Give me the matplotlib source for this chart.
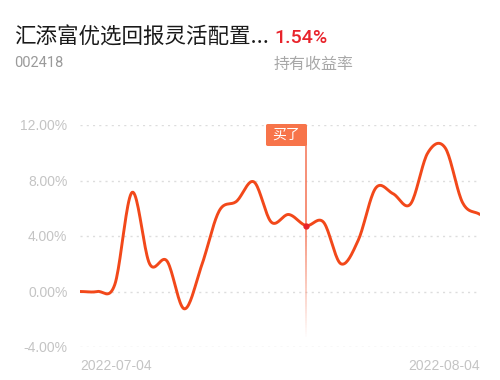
import numpy as np
import matplotlib.pyplot as plt
from matplotlib.collections import LineCollection
from matplotlib.patches import FancyBboxPatch

plt.rcParams['font.family'] = ['Noto Sans CJK SC', 'DejaVu Sans']

# daily holding return (%) from 2022-07-04 to 2022-08-04
returns = [0.0, 0.0, 0.5, 7.15, 2.0, 2.2, -1.25, 1.9, 5.8, 6.5, 7.9, 5.0,
           5.55, 4.75, 5.0, 2.0, 3.7, 7.45, 7.05, 6.3, 10.0, 10.35, 6.4, 5.55]
y_ticks = [-4, 0, 4, 8, 12]
date_labels = ['2022-07-04', '2022-08-04']
buy_index = 13
title = '汇添富优选回报灵活配置...'
code = '002418'
rate = '1.54%'
rate_label = '持有收益率'

line_color = '#F2481A'
grid_color = '#DDDDDD'
tick_color = '#C4C4C4'


def smooth(xs, ys, n=20):
    # catmull-rom style cubic hermite through the points, for drawing only
    xs = np.asarray(xs, float)
    ys = np.asarray(ys, float)
    m = np.gradient(ys, xs)
    out_x, out_y = [], []
    for i in range(len(xs) - 1):
        h = xs[i + 1] - xs[i]
        t = np.linspace(0, 1, n, endpoint=False)
        h00 = 2 * t**3 - 3 * t**2 + 1
        h10 = t**3 - 2 * t**2 + t
        h01 = -2 * t**3 + 3 * t**2
        h11 = t**3 - t**2
        out_x.append(xs[i] + t * h)
        out_y.append(h00 * ys[i] + h10 * h * m[i] + h01 * ys[i + 1] + h11 * h * m[i + 1])
    out_x.append([xs[-1]])
    out_y.append([ys[-1]])
    return np.concatenate(out_x), np.concatenate(out_y)


fig = plt.figure(figsize=(5, 3.8), dpi=100)
ax = fig.add_axes([0.16, 1 - 347 / 380, 0.8, (347 - 125) / 380])

x = np.arange(len(returns))
sx, sy = smooth(x, returns)

ax.set_xlim(0, len(returns) - 1)
ax.set_ylim(-4, 12)
for v in y_ticks:
    ax.axhline(v, color=grid_color, lw=1, ls=(0, (1.5, 3)), zorder=0)

# buy marker line, fading downwards
bx = buy_index
yy = np.linspace(12 - 0.2, -3.3, 120)
segs = [[(bx, yy[i]), (bx, yy[i + 1])] for i in range(len(yy) - 1)]
alphas = np.clip((yy[:-1] + 3.3) / 8.0, 0, 1) * 0.9
cols = [(0.96, 0.48, 0.36, a) for a in alphas]
ax.add_collection(LineCollection(segs, colors=cols, linewidths=1.3, zorder=1))

ax.plot(sx, sy, color=line_color, lw=2.1, solid_capstyle='round', zorder=3)
ax.plot([bx], [returns[bx]], 'o', color='#E8222A', ms=3.5, zorder=4)

ax.set_yticks(y_ticks)
ax.set_yticklabels([f'{v:.2f}%' for v in y_ticks], family='Liberation Sans',
                   fontsize=10, color=tick_color)
ax.tick_params(axis='y', length=0, pad=9)
ax.set_xticks([])
for s in ax.spines.values():
    s.set_visible(False)

ax.text(0, -0.085, date_labels[0], transform=ax.transAxes, ha='left', va='center',
        family='Liberation Sans', fontsize=10, color=tick_color)
ax.text(1, -0.085, date_labels[1], transform=ax.transAxes, ha='right', va='center',
        family='Liberation Sans', fontsize=10, color=tick_color)

# buy tag box (pixel coordinates of figure)
box = FancyBboxPatch((266 / 500, 1 - 146 / 380), 41 / 500, 22 / 380,
                     boxstyle='round,pad=0,rounding_size=0.004',
                     transform=fig.transFigure, facecolor='#F7744A', edgecolor='none')
fig.patches.append(box)
fig.text(286.5 / 500, 1 - 134.5 / 380, '买了', ha='center', va='center',
         fontsize=10, color='white')

fig.text(14 / 500, 1 - 38 / 380, title, ha='left', va='center', fontsize=15.5,
         color='#1A1A1A')
fig.text(274 / 500, 1 - 38 / 380, rate, ha='left', va='center', fontsize=14,
         family='Roboto', weight='medium', color='#E8232B')
fig.text(14 / 500, 1 - 63 / 380, code, ha='left', va='center', fontsize=10.5,
         family='Roboto', color='#9A9A9A')
fig.text(274 / 500, 1 - 64 / 380, rate_label, ha='left', va='center', fontsize=11.5,
         color='#A8A8A8')

fig.savefig('out.png', dpi=100, facecolor='white')
